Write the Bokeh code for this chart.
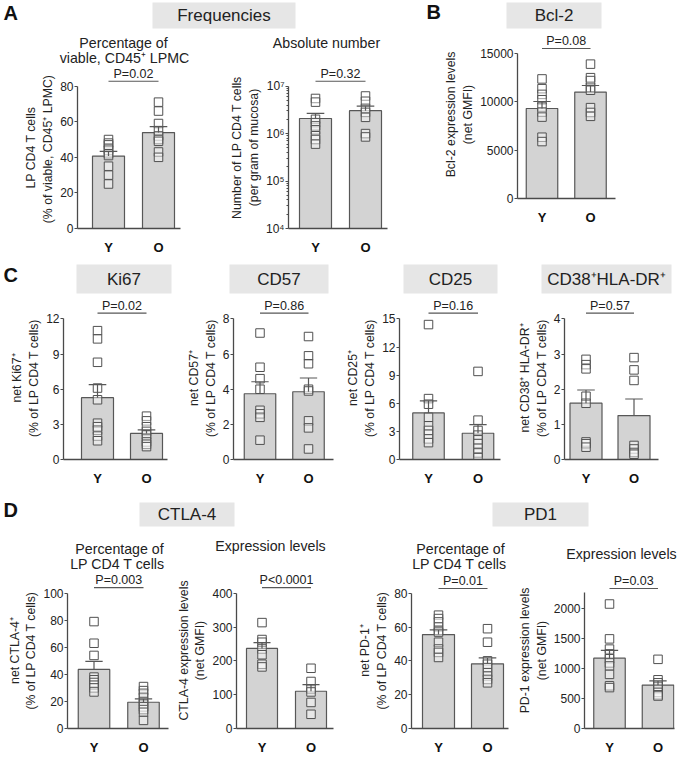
import numpy as np
from bokeh.plotting import figure
from bokeh.layouts import column, row
from bokeh.models import Range1d, FixedTicker, ColumnDataSource
from bokeh.embed import file_html
from bokeh.resources import INLINE
from bokeh.core.properties import value

# ---------------- data ----------------
groups = ["Y", "O"]

freq_pct_Y = [50, 48, 47, 45, 44, 42, 41, 35, 30, 25]
freq_pct_O = [71, 66, 59, 55, 52, 50, 49, 43, 40]
freq_abs_Y = [5.5e6, 4.6e6, 2.0e6, 1.7e6, 1.45e6, 1.2e6, 0.9e6, 0.75e6, 0.6e6]
freq_abs_O = [6.2e6, 4.8e6, 3.4e6, 2.8e6, 2.2e6, 1.0e6, 0.85e6]
bcl2_Y = [12370, 11360, 10770, 10220, 9460, 8940, 8420, 6340, 5890]
bcl2_O = [13900, 12500, 12200, 11500, 11200, 9400, 8900, 8500]
ki67_Y = [11.0, 10.3, 8.3, 6.1, 5.1, 3.1, 2.8, 2.5, 2.0, 1.6]
ki67_O = [3.7, 3.3, 2.8, 2.4, 2.1, 1.8, 1.5, 1.3, 1.1]
cd57_Y = [7.2, 5.25, 4.6, 4.0, 2.8, 2.6, 2.4, 1.1]
cd57_O = [7.0, 5.9, 5.45, 4.0, 3.9, 2.2, 1.8, 0.6]
cd25_Y = [14.4, 6.5, 5.9, 4.5, 3.6, 3.1, 2.7, 2.2, 1.8]
cd25_O = [9.4, 4.2, 3.1, 2.6, 2.1, 1.7, 1.2, 0.7, 0.2]
cd38dr_Y = [2.85, 2.7, 2.58, 1.8, 1.6, 0.5, 0.45, 0.35]
cd38dr_O = [2.9, 2.55, 2.25, 0.4, 0.3, 0.2, 0.15]
ctla_pct_Y = [79, 63, 54, 38, 36, 34, 32, 30, 27]
ctla_pct_O = [31, 28, 26, 23, 20, 18, 16, 14, 12, 6]
ctla_mfi_Y = [313, 263, 255, 235, 218, 190, 182]
ctla_mfi_O = [178, 139, 117, 108, 77, 42]
pd1_pct_Y = [67, 65, 63, 60, 58, 57, 51, 47, 45, 42]
pd1_pct_O = [59, 51, 40, 38, 36, 33, 31, 29, 27]
pd1_mfi_Y = [2070, 1490, 1320, 1240, 1160, 1090, 1040, 900, 710, 680]
pd1_mfi_O = [1150, 810, 760, 700, 650, 600, 560, 540]

ticks_freq_pct = [0, 20, 40, 60, 80]
ticks_freq_abs = [1e4, 1e5, 1e6, 1e7]
labels_freq_abs = ["10\u2074", "10\u2075", "10\u2076", "10\u2077"]
ticks_bcl2 = [0, 5000, 10000, 15000]
ticks_ki67 = [0, 3, 6, 9, 12]
ticks_cd57 = [0, 2, 4, 6, 8]
ticks_cd25 = [0, 3, 6, 9, 12, 15]
ticks_cd38dr = [0, 1, 2, 3, 4]
ticks_ctla_pct = [0, 20, 40, 60, 80, 100]
ticks_ctla_mfi = [0, 100, 200, 300, 400]
ticks_pd1_pct = [0, 20, 40, 60, 80]
ticks_pd1_mfi = [0, 500, 1000, 1500, 2000]

# ---------------- style ----------------
FONT = "Liberation Sans"
BAR = "#d3d3d3"
EDGE = "#575757"
AX = "#4a4a4a"
TXT = "#222222"
HDR = "#e6e6e6"
SUP = "\u207a"
W_ALL = 685
H_ALL = 757


def strip(l, r, t, b, boxes=(), letters=(), texts=()):
    """Decoration strip; coordinates are page pixels."""
    w, h = r - l, b - t
    p = figure(width=w, height=h, x_range=Range1d(0, w), y_range=Range1d(h, 0),
               x_axis_type=None, y_axis_type=None, toolbar_location=None,
               output_backend="svg", min_border=0, title=None)
    p.outline_line_color = None
    p.xgrid.visible = False
    p.ygrid.visible = False
    p.frame_align = False
    for text, x0, x1, y0, y1 in boxes:
        p.quad(left=[x0 - l], right=[x1 - l], top=[y0 - t], bottom=[y1 - t],
               fill_color=HDR, line_color=None)
        p.text(x=[(x0 + x1) / 2 - l], y=[(y0 + y1) / 2 - t], text=[text],
               text_align="center", text_baseline="middle", text_font=value(FONT),
               text_font_size="17px", text_color=TXT)
    for text, lx, ly in letters:
        p.text(x=[lx - l], y=[ly - t], text=[text], text_align="left",
               text_baseline="top", text_font=value(FONT), text_font_size="20px",
               text_font_style="bold", text_color="#111111")
    for text, cx, cy in texts:
        p.text(x=[cx - l], y=[cy - t], text=[text], text_align="center",
               text_baseline="middle", text_font=value(FONT), text_font_size="14.2px",
               text_color=TXT)
    return p


def chart(sp, t, b):
    yd = np.array(sp["Y"], float)
    od = np.array(sp["O"], float)
    means = [yd.mean(), od.mean()]
    sems = [yd.std(ddof=1) / np.sqrt(len(yd)), od.std(ddof=1) / np.sqrt(len(od))]
    l, r = sp["fl"], sp["fr"]
    w, h = r - l, b - t
    axL, xeL = sp["axis"], sp["xend"]
    c0, c1 = sp["c0"], sp["c1"]
    s = c1 - c0
    mbl, mbr = axL - l, r - xeL
    xs, xe = (axL - c0) / s, (xeL - c0) / s
    yb = sp["y0"]
    mbb = b - yb
    span = sp["y0"] - sp["ytop"]
    log = sp.get("log", False)
    if log:
        dpp = 3.0 / span

        def v(yl):
            return 10 ** (4 + (yb - yl) * dpp)
        y_start = 1e4
    else:
        vpp = sp["topv"] / span

        def v(yl):
            return (yb - yl) * vpp
        y_start = 0

    y_end = v(t)
    p = figure(width=w, height=h, x_range=Range1d(xs, xe), y_range=Range1d(y_start, y_end),
               y_axis_type="log" if log else "linear", title=None, toolbar_location=None,
               output_backend="svg", min_border_left=mbl, min_border_right=mbr,
               min_border_top=0, min_border_bottom=mbb)
    p.frame_align = False
    p.outline_line_color = None
    p.xgrid.visible = False
    p.ygrid.visible = False

    bw = sp["bw"] / s
    hi = [m + e for m, e in zip(means, sems)]
    src = ColumnDataSource(dict(x=[0, 1], top=means, bottom=[y_start, y_start], hi=hi,
                                grp=groups))
    p.vbar(x="x", top="top", bottom="bottom", width=bw, source=src, fill_color=BAR,
           line_color=EDGE, line_width=1.2)
    pts = ColumnDataSource(dict(x=[0] * len(yd) + [1] * len(od), y=list(yd) + list(od)))
    p.scatter(x="x", y="y", source=pts, marker="square", size=8.5, line_color="#505050",
              fill_color="white", fill_alpha=0.45, line_width=1)
    p.segment(x0="x", y0="top", x1="x", y1="hi", source=src, line_color=EDGE, line_width=1.2)
    cw = bw * 0.55
    p.segment(x0=[-cw / 2, 1 - cw / 2], y0=hi, x1=[cw / 2, 1 + cw / 2], y1=hi,
              line_color=EDGE, line_width=1.2)

    pv = v(sp["p"])
    p.segment(x0=[0], y0=[pv], x1=[1], y1=[pv], line_color=EDGE, line_width=1.2)
    p.text(x=[0.5], y=[v(sp["p"] - 0.5)], text=[sp["ptext"]], text_align="center",
           text_baseline="bottom", text_font=value(FONT), text_font_size="12.5px",
           text_color=TXT)

    xa = p.xaxis[0]
    xa.ticker = FixedTicker(ticks=[0, 1])
    ov = {}
    for i, g in enumerate(groups):
        ov[i] = g
        ov[str(i)] = g
    xa.major_label_overrides = ov
    xa.major_tick_line_color = None
    xa.minor_tick_line_color = None
    xa.major_label_text_font = FONT
    xa.major_label_text_font_size = "13px"
    xa.major_label_text_font_style = "bold"
    xa.major_label_text_color = "#111111"
    xa.major_label_standoff = 5
    xa.axis_line_color = AX
    xa.axis_line_width = 1.3

    ya = p.yaxis[0]
    if log:
        minors = [k * 10 ** e for e in (4, 5, 6) for k in range(2, 10)]
        ya.ticker = FixedTicker(ticks=sp["ticks"], minor_ticks=minors)
        yo = {}
        for tv, lab in zip(sp["ticks"], sp["ticklabels"]):
            yo[int(tv)] = lab
            yo[str(int(tv))] = lab
        ya.major_label_overrides = yo
        ya.minor_tick_out = 2
        ya.minor_tick_in = 0
        ya.minor_tick_line_color = AX
        ya.bounds = (1e4, 1e7)
    else:
        ya.ticker = FixedTicker(ticks=sp["ticks"])
        ya.minor_tick_line_color = None
        ya.bounds = (0, sp.get("bound", sp["topv"]))
    ya.major_tick_out = 3
    ya.major_tick_in = 0
    ya.major_tick_line_color = AX
    ya.axis_line_color = AX
    ya.axis_line_width = 1.3
    ya.major_label_standoff = 1
    ya.major_label_text_font = FONT
    ya.major_label_text_font_size = "12px"
    ya.major_label_text_color = TXT
    ya.axis_label = sp["ylabel"]
    ya.axis_label_text_font = FONT
    ya.axis_label_text_font_size = "12.3px"
    ya.axis_label_text_font_style = "normal"
    ya.axis_label_text_color = TXT
    ya.axis_label_standoff = 2
    return p


spec_freq_pct = dict(Y=freq_pct_Y, O=freq_pct_O, fl=0, fr=220, axis=77, xend=180, c0=108, c1=158,
                     bw=32, y0=231, ytop=86, topv=80, ticks=ticks_freq_pct, p=81, ptext="P=0.02",
                     ylabel="LP CD4 T cells\n(% of viable,  CD45" + SUP + " LPMC)")
spec_freq_abs = dict(Y=freq_abs_Y, O=freq_abs_O, fl=220, fr=420, axis=288, xend=387, c0=315,
                     c1=365, bw=32, y0=231, ytop=86, log=True, ticks=ticks_freq_abs,
                     ticklabels=labels_freq_abs, p=81, ptext="P=0.32",
                     ylabel="Number of LP CD4 T cells\n(per gram of mucosa)")
spec_bcl2 = dict(Y=bcl2_Y, O=bcl2_O, fl=420, fr=W_ALL, axis=517, xend=615, c0=541.5, c1=590,
                 bw=31.5, y0=198, ytop=53, topv=15000, ticks=ticks_bcl2, p=48, ptext="P=0.08",
                 ylabel="Bcl-2 expression levels\n(net GMFI)")
specs_row2 = [
    dict(Y=ki67_Y, O=ki67_O, fl=0, fr=170, axis=63, xend=167, c0=97, c1=146, bw=32,
         y0=463, ytop=319, topv=12, ticks=ticks_ki67, p=313, ptext="P=0.02",
         ylabel="net Ki67" + SUP + "\n(% of LP CD4 T cells)"),
    dict(Y=cd57_Y, O=cd57_O, fl=170, fr=340, axis=233, xend=333, c0=259.5, c1=308, bw=31.5,
         y0=463, ytop=319, topv=8, ticks=ticks_cd57, p=313, ptext="P=0.86",
         ylabel="net CD57" + SUP + "\n(% of LP CD4 T cells)"),
    dict(Y=cd25_Y, O=cd25_O, fl=340, fr=505, axis=399, xend=500, c0=428, c1=477.5, bw=31.5,
         y0=463, ytop=319, topv=15, ticks=ticks_cd25, p=313, ptext="P=0.16",
         ylabel="net CD25" + SUP + "\n(% of LP CD4 T cells)"),
    dict(Y=cd38dr_Y, O=cd38dr_O, fl=505, fr=W_ALL, axis=564, xend=658, c0=585.5, c1=633.5,
         bw=32, y0=463, ytop=319, topv=4, ticks=ticks_cd38dr, p=313, ptext="P=0.57",
         ylabel="net CD38" + SUP + " HLA-DR" + SUP + "\n(% of LP CD4 T cells)"),
]
specs_row3 = [
    dict(Y=ctla_pct_Y, O=ctla_pct_O, fl=0, fr=172, axis=67, xend=168, c0=93.5, c1=143, bw=31.5,
         y0=738, ytop=594, topv=100, ticks=ticks_ctla_pct, p=588, ptext="P=0.003",
         ylabel="net CTLA-4" + SUP + "\n(% of LP CD4 T cells)"),
    dict(Y=ctla_mfi_Y, O=ctla_mfi_O, fl=172, fr=350, axis=236, xend=333, c0=261.5, c1=310.5,
         bw=31, y0=738, ytop=594, topv=400, ticks=ticks_ctla_mfi, p=588, ptext="P<0.0001",
         ylabel="CTLA-4 expression levels\n(net GMFI)"),
    dict(Y=pd1_pct_Y, O=pd1_pct_O, fl=350, fr=515, axis=411, xend=508, c0=438, c1=487, bw=32,
         y0=738, ytop=594, topv=80, ticks=ticks_pd1_pct, p=589, ptext="P=0.01",
         ylabel="net PD-1" + SUP + "\n(% of LP CD4 T cells)"),
    dict(Y=pd1_mfi_Y, O=pd1_mfi_O, fl=515, fr=W_ALL, axis=584, xend=674, c0=609, c1=657.5,
         bw=31.5, y0=738, ytop=610, topv=2000, bound=2265, ticks=ticks_pd1_mfi, p=589,
         ptext="P=0.03", ylabel="PD-1 expression levels\n(net GMFI)"),
]

# rows (page pixels)
h1 = strip(0, W_ALL, 0, 30,
           boxes=[("Frequencies", 152, 295, 2, 28), ("Bcl-2", 506, 601, 2, 28)],
           letters=[("A", 3, 1), ("B", 426, 0)])
subA = strip(0, 420, 30, 66,
             texts=[("Percentage of", 123, 42), ("viable, CD45" + SUP + " LPMC", 124, 57.5),
                    ("Absolute number", 326, 42)])
r1 = row(column(subA, row(chart(spec_freq_pct, 66, 257), chart(spec_freq_abs, 66, 257))),
         chart(spec_bcl2, 30, 257))
h2 = strip(0, W_ALL, 257, 296,
           boxes=[("Ki67", 76, 171, 264, 293), ("CD57", 229, 328, 264, 293),
                  ("CD25", 403, 497, 264, 293),
                  ("CD38" + SUP + "HLA-DR" + SUP, 541, 671, 264, 293)],
           letters=[("C", 3, 263)])
r2 = row(*[chart(sp, 296, 488) for sp in specs_row2])
h3 = strip(0, W_ALL, 488, 572,
           boxes=[("CTLA-4", 139, 234, 502, 526), ("PD1", 492, 588, 502, 526)],
           letters=[("D", 3, 498)],
           texts=[("Percentage of", 119, 548), ("LP CD4 T cells", 117, 563),
                  ("Expression levels", 270, 545), ("Percentage of", 460, 548),
                  ("LP CD4 T cells", 459, 563), ("Expression levels", 621, 553)])
r3 = row(*[chart(sp, 572, H_ALL) for sp in specs_row3])

layout = column(h1, r1, h2, r2, h3, r3)
open("out.html", "w").write(file_html(layout, INLINE))
